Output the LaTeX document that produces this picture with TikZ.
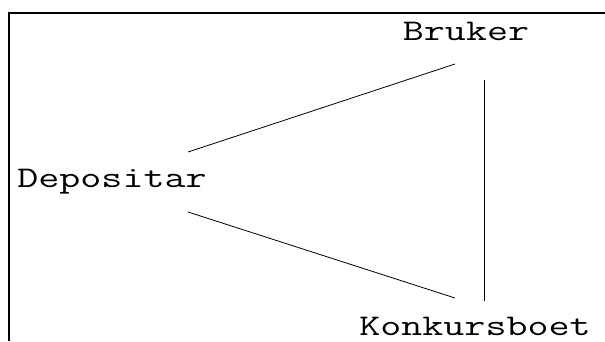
\documentclass[tikz,border=0pt]{standalone}
\usepackage{fontspec}
\newfontfamily\partyfont[FakeStretch=1.36]{Latin Modern Mono}
\usetikzlibrary{positioning}

\begin{document}
\begin{tikzpicture}[x=1pt,y=1pt]
		\tikzset{party/.style={inner sep = 0pt, font = \partyfont\fontsize{30}{36}\selectfont}}
		\tikzset{link/.style={line width = 0.8pt}}
		\tikzset{frame/.style={line width = 2.8pt}}
					\useasboundingbox (0,0) rectangle (605,341);
					\draw[frame] (605,328) -- (9,328) -- (9,0);
					%parties
					\node[party, anchor = base] (bruker) at (466, 301) {Bruker};
					\node[party, anchor = base] (depositar) at (112, 154) {Depositar};
					\node[party, anchor = base] (konkurs) at (475, 6) {Konkursboet};
					%links
					\draw[link] ([xshift=76pt, yshift=35pt]depositar.base) -- ([xshift=-11pt, yshift=-24pt]bruker.base);
					\draw[link] ([xshift=76pt, yshift=-25pt]depositar.base) -- ([xshift=-20pt, yshift=37pt]konkurs.base);
					\draw[link] ([xshift=18pt, yshift=-40pt]bruker.base) -- ([xshift=9pt, yshift=34pt]konkurs.base);

					\end{tikzpicture}
\end{document}
